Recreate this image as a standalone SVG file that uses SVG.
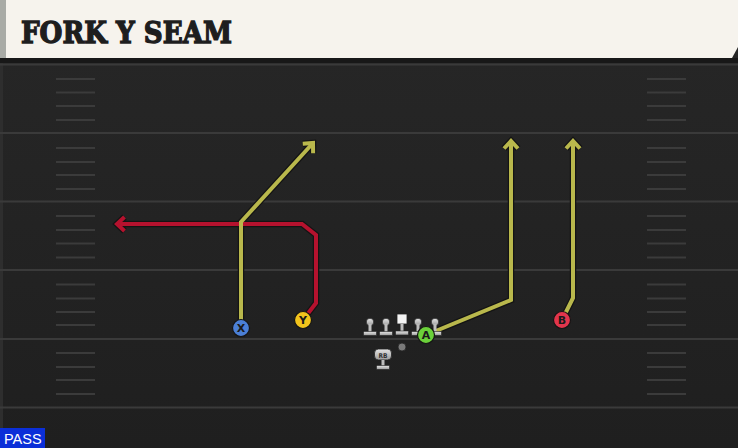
<svg xmlns="http://www.w3.org/2000/svg" width="738" height="448" viewBox="0 0 738 448">
<style>
.yl{stroke:#3a3a3a;stroke-width:2;fill:none}
.hm{stroke:#3b3b3b;stroke-width:2;fill:none}
.ro{fill:none;stroke:#141414;stroke-width:6.5;stroke-linejoin:miter}
.ry{fill:none;stroke:#b9b84c;stroke-width:4;stroke-linejoin:miter}
.rr{fill:none;stroke:#b5122e;stroke-width:4;stroke-linejoin:miter}
.pl{stroke:#151515;stroke-width:1.2}
.lbl{font-family:"DejaVu Sans","Liberation Sans",sans-serif;font-size:11px;font-weight:bold;fill:#1a1a1a;text-anchor:middle}
</style>
<defs>
<linearGradient id="fld" x1="0" y1="0" x2="0" y2="1">
<stop offset="0" stop-color="#272727"/>
<stop offset="1" stop-color="#1f1f1f"/>
</linearGradient>
<linearGradient id="lin" x1="0" y1="0" x2="0" y2="1">
<stop offset="0" stop-color="#e6e6e6"/>
<stop offset="1" stop-color="#9a9a9a"/>
</linearGradient>
<marker id="aO" markerUnits="userSpaceOnUse" viewBox="-12 -12 24 24" markerWidth="24" markerHeight="24" refX="0" refY="0" orient="auto">
<path d="M-7.5,-7 L0,0 L-7.5,7" fill="none" stroke="#141414" stroke-width="6.5"/>
</marker>
<marker id="aY" markerUnits="userSpaceOnUse" viewBox="-12 -12 24 24" markerWidth="24" markerHeight="24" refX="0" refY="0" orient="auto">
<path d="M-7.5,-7 L0,0 L-7.5,7" fill="none" stroke="#b9b84c" stroke-width="4"/>
</marker>
<marker id="aR" markerUnits="userSpaceOnUse" viewBox="-12 -12 24 24" markerWidth="24" markerHeight="24" refX="0" refY="0" orient="auto">
<path d="M-7.5,-7 L0,0 L-7.5,7" fill="none" stroke="#b5122e" stroke-width="4"/>
</marker>
</defs>
<rect x="0" y="0" width="738" height="448" fill="url(#fld)"/>
<rect x="0" y="58" width="3" height="390" fill="#2e2e2e"/>
<g id="field">
<line class="yl" x1="0" y1="64.5" x2="738" y2="64.5"/>
<line class="yl" x1="0" y1="133" x2="738" y2="133"/>
<line class="yl" x1="0" y1="201.5" x2="738" y2="201.5"/>
<line class="yl" x1="0" y1="270" x2="738" y2="270"/>
<line class="yl" x1="0" y1="339" x2="738" y2="339"/>
<line class="yl" x1="0" y1="407.5" x2="738" y2="407.5"/>
<path class="hm" d="M56,79H95M56,92.5H95M56,106H95M56,120H95M56,148H95M56,162H95M56,175H95M56,189H95M56,216H95M56,230H95M56,243.5H95M56,257.5H95M56,284.5H95M56,298.5H95M56,312H95M56,325H95M56,353H95M56,367H95M56,380H95M56,394H95"/>
<path class="hm" d="M647,79H686M647,92.5H686M647,106H686M647,120H686M647,148H686M647,162H686M647,175H686M647,189H686M647,216H686M647,230H686M647,243.5H686M647,257.5H686M647,284.5H686M647,298.5H686M647,312H686M647,325H686M647,353H686M647,367H686M647,380H686M647,394H686"/>
</g>
<g id="header">
<rect x="0" y="58" width="738" height="5" fill="#181818"/>
<polygon points="0,0 738,0 738,47 732,58 0,58" fill="#f6f3ed"/>
<rect x="0" y="0" width="6" height="58" fill="#a9aba6"/>
<text x="21" y="43" font-family="'DejaVu Serif','Liberation Serif',serif" font-weight="bold" font-size="30" fill="#1e1e1e" stroke="#1e1e1e" stroke-width="1.4" stroke-linejoin="miter" textLength="211" lengthAdjust="spacingAndGlyphs">FORK Y SEAM</text>
</g>
<g id="connectors">
<polyline class="ro" points="241,328 241,222 313,143" marker-end="url(#aO)"/>
<polyline class="ro" points="303,320 316,303 316,235 302,224 117,224" marker-end="url(#aO)"/>
<polyline class="ro" points="426,335 511,300 511,141" marker-end="url(#aO)"/>
<polyline class="ro" points="562,320 573,298 573,141" marker-end="url(#aO)"/>
<polyline class="rr" points="303,320 316,303 316,235 302,224 117,224" marker-end="url(#aR)"/>
<polyline class="ry" points="241,328 241,222 313,143" marker-end="url(#aY)"/>
<polyline class="ry" points="426,335 511,300 511,141" marker-end="url(#aY)"/>
<polyline class="ry" points="562,320 573,298 573,141" marker-end="url(#aY)"/>
</g>
<g id="line-lt">
<circle cx="370" cy="322" r="3.8" fill="url(#lin)" stroke="#222" stroke-width="0.8"/>
<rect x="368.5" y="324" width="3" height="8" fill="#bdbdbd"/>
<rect x="363.5" y="331.5" width="13" height="4" fill="url(#lin)" stroke="#222" stroke-width="0.6"/>
</g>
<g id="line-lg">
<circle cx="386" cy="322" r="3.8" fill="url(#lin)" stroke="#222" stroke-width="0.8"/>
<rect x="384.5" y="324" width="3" height="8" fill="#bdbdbd"/>
<rect x="379.5" y="331.5" width="13" height="4" fill="url(#lin)" stroke="#222" stroke-width="0.6"/>
</g>
<g id="line-c">
<rect x="397" y="314" width="10" height="10" fill="#f4f4f4" stroke="#222" stroke-width="0.8"/>
<rect x="400.5" y="324" width="3" height="7.5" fill="#bdbdbd"/>
<rect x="395.5" y="331" width="13" height="4" fill="url(#lin)" stroke="#222" stroke-width="0.6"/>
</g>
<g id="line-rg">
<circle cx="418" cy="322" r="3.8" fill="url(#lin)" stroke="#222" stroke-width="0.8"/>
<rect x="416.5" y="324" width="3" height="8" fill="#bdbdbd"/>
<rect x="411.5" y="331.5" width="13" height="4" fill="url(#lin)" stroke="#222" stroke-width="0.6"/>
</g>
<g id="line-rt">
<circle cx="435" cy="322" r="3.8" fill="url(#lin)" stroke="#222" stroke-width="0.8"/>
<rect x="433.5" y="324" width="3" height="8" fill="#bdbdbd"/>
<rect x="428.5" y="331.5" width="13" height="4" fill="url(#lin)" stroke="#222" stroke-width="0.6"/>
</g>
<g id="qb">
<circle cx="402" cy="347" r="4" fill="#7a7a7a" stroke="#222" stroke-width="0.8"/>
</g>
<g id="rb">
<rect x="374.5" y="349" width="17" height="11" rx="4" fill="url(#lin)" stroke="#222" stroke-width="0.8"/>
<text x="383" y="357.5" font-family="'DejaVu Sans Condensed','Liberation Sans',sans-serif" font-size="6.5" font-weight="bold" fill="#333" text-anchor="middle">RB</text>
<rect x="381.5" y="360" width="3" height="6" fill="#bdbdbd"/>
<rect x="376.5" y="365.5" width="13" height="4" fill="url(#lin)" stroke="#222" stroke-width="0.6"/>
</g>
<g id="X">
<circle class="pl" cx="241" cy="328" r="8.5" fill="#4b7fd6"/>
<text class="lbl" x="241" y="332">X</text>
</g>
<g id="Y">
<circle class="pl" cx="303" cy="320" r="8.5" fill="#f2c41c"/>
<text class="lbl" x="303" y="324">Y</text>
</g>
<g id="A">
<circle class="pl" cx="426" cy="335" r="8.5" fill="#6bd03a"/>
<text class="lbl" x="426" y="339">A</text>
</g>
<g id="B">
<circle class="pl" cx="562" cy="320" r="8.5" fill="#e2354c"/>
<text class="lbl" x="562" y="324">B</text>
</g>
<g id="pass">
<rect x="0" y="428" width="45" height="20" fill="#0b2fd8"/>
<text x="4" y="444" font-family="'Liberation Sans',Arial,sans-serif" font-size="14.5" fill="#ffffff">PASS</text>
</g>
</svg>
